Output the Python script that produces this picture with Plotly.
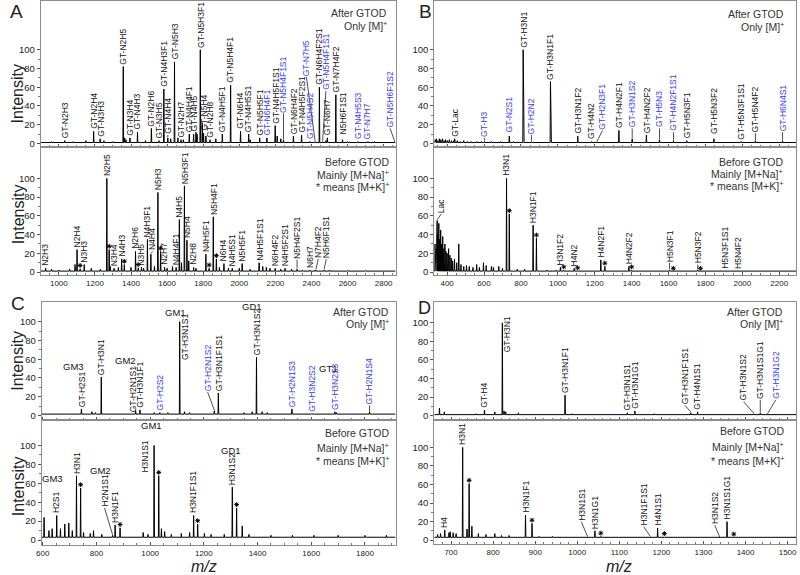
import plotly.graph_objects as go

# ====================== DATA ======================
# ---- Panel A, after GTOD (only [M]+) ----
A1_names = ["GT-N2H3", "GT-N2H4", "GT-N3H3", "GT-N2H5", "GT-N3H4", "GT-N4H3", "GT-N2H6",
            "GT-N3H5", "GT-N4H3F1", "GT-N4H4", "GT-N5H3", "GT-N2H7", "GT-N4H4F1", "GT-N4H5",
            "GT-N5H3F1", "GT-N5H4", "GT-N2H8", "GT-N4H5F1", "GT-N5H4F1", "GT-N6H4", "GT-N4H5S1",
            "GT-N5H5F1", "GT-N6H4F1", "GT-N4H5F1S1", "GT-N5H4F1S1", "GT-N6H4F2", "GT-N4H5F2S1",
            "GT-N5H4S2", "GT-N7H5", "GT-N6H4F2S1", "GT-N5H4F1S1", "GT-N6H7", "GT-N7H4F2",
            "N5H6F1S1", "GT-N4H5S3", "GT-N7H7", "GT-N5H6F1S2"]
A1_mz = [1033, 1193, 1229, 1357, 1394, 1436, 1513, 1555, 1582, 1604, 1641, 1677, 1723, 1747,
         1784, 1802, 1838, 1906, 1952, 2007, 2052, 2113, 2153, 2199, 2245, 2300, 2345, 2391,
         2420, 2444, 2462, 2488, 2535, 2572, 2658, 2713, 2860]
A1_int = [3, 13, 5, 82, 6, 12, 16, 3, 58, 6, 87, 4, 10, 10, 100, 11, 4, 10, 62, 13, 10, 6, 6,
          19, 4, 8, 9, 2, 2, 60, 2, 6, 52, 4, 2, 2, 2]
A1_minor_mz = [960, 1080, 1150, 1250, 1300, 1365, 1372, 1480, 1620, 1660, 1690, 1760, 1766,
               1795, 1815, 1870, 2060, 2210, 2230, 2480, 2600, 2750]
A1_minor_int = [2, 2, 3, 3, 2, 6, 4, 3, 5, 6, 4, 12, 10, 22, 8, 5, 4, 8, 5, 3, 2, 2]

# ---- Panel A, before GTOD ----
A2_names = ["N2H3", "N2H4", "N3H3", "N2H5", "N3H4", "N4H3", "N2H6", "N3H5", "N4H3F1", "N4H4",
            "N5H3", "N2H7", "N4H4F1", "N4H5", "N5H3F1", "N5H4", "N2H8", "N4H5F1", "N5H4F1",
            "N6H4", "N4H5S1", "N5H5F1", "N4H5F1S1", "N6H4F2", "N4H5F2S1", "N5H4F2S1", "N6H7",
            "N7H4F2", "N5H6F1S1"]
A2_mz = [927, 1101, 1141, 1266, 1306, 1348, 1425, 1458, 1491, 1510, 1549, 1586, 1650, 1668,
         1696, 1710, 1747, 1815, 1856, 1915, 1961, 2016, 2110, 2199, 2254, 2320, 2391, 2425, 2470]
A2_int = [4, 24, 8, 100, 4, 14, 22, 5, 35, 19, 85, 5, 5, 56, 92, 34, 5, 19, 59, 9, 4, 9, 10,
          4, 4, 3, 2, 2, 2]
A2_k_mz = [1118, 1279, 1363, 1440, 1564, 1833, 1873]
A2_k_int = [3.5, 24, 8, 4.5, 22, 4, 14]
A2_minor_mz = [960, 1000, 1060, 1090, 1180, 1230, 1285, 1330, 1400, 1470, 1530, 1600, 1630,
               1680, 1720, 1760, 1890, 1940, 2000, 2060, 2130, 2150, 2170, 2230, 2290, 2350,
               2420, 2500, 2600, 2700]
A2_minor_int = [3, 2, 3, 8, 4, 3, 6, 5, 5, 4, 6, 4, 6, 10, 12, 4, 5, 4, 4, 3, 6, 5, 4, 3, 3,
                2, 2, 2, 1.5, 1.5]

# ---- Panel B, after GTOD ----
B1_names = ["GT-Lac", "GT-H3", "GT-N2S1", "GT-H3N1", "GT-H2N2", "GT-H3N1F1", "GT-H3N1F2",
            "GT-H4N2", "GT-H2N3F1", "GT-H4N2F1", "GT-H3N1S2", "GT-H4N2F2", "GT-H5N3",
            "GT-H4N2F1S1", "GT-H5N3F1", "GT-H5N3F2", "GT-H5N3F1S1", "GT-H5N4F2", "GT-H6N4S1"]
B1_mz = [441, 603, 737, 812, 857, 960, 1108, 1183, 1211, 1331, 1403, 1480, 1551, 1627, 1699,
         1846, 1994, 2071, 2218]
B1_int = [5, 2, 8, 100, 2, 66, 8, 2, 1, 14, 5, 9, 4, 3, 3, 5, 2, 3, 3]
B1_minor_mz = [335, 342, 350, 358, 366, 375, 384, 392, 402, 412, 424, 436, 455, 470, 490, 510,
               530, 560, 585, 640, 690, 760, 815, 963]
B1_minor_int = [4, 5, 3, 5, 4, 5, 3, 4, 3, 4, 3, 3, 3, 2, 3, 2, 2, 2, 2, 2, 2, 2, 48, 30]

# ---- Panel B, before GTOD ----
B2_names = ["Lac", "H3N1", "H3N1F1", "H3N1F2", "H4N2", "H4N2F1", "H4N2F2", "H5N3F1", "H5N3F2",
            "H5N3F1S1", "H5N4F2"]
B2_mz = [346, 722, 866, 1014, 1089, 1233, 1385, 1605, 1758, 1905, 1976]
B2_int = [55, 100, 50, 5, 4, 13, 6, 2, 2, 1, 1]
B2_k_mz = [737, 884, 1032, 1107, 1255, 1400, 1626, 1773]
B2_k_int = [62, 36, 2, 1, 6, 2, 0.5, 0.5]
B2_minor_mz = [334, 338, 342, 350, 355, 360, 365, 370, 376, 382, 388, 394, 400, 408, 415, 422,
               430, 440, 452, 463, 475, 490, 505, 520, 540, 560, 575, 597, 612, 640, 651, 680,
               700, 780, 820, 940, 990]
B2_minor_int = [30, 25, 45, 40, 52, 35, 45, 30, 38, 25, 30, 22, 20, 25, 18, 15, 12, 14, 10, 30,
                8, 6, 7, 6, 5, 8, 5, 10, 7, 6, 5, 6, 4, 3, 3, 2, 2]

# ---- Panel C, after GTOD ----
C1_names = ["GT-H2S1", "GT-H3N1", "GT-H2N1S1", "GT-H3N1F1", "GT-H2S2", "GT-H3N1S1",
            "GT-H2N1S2", "GT-H3N1F1S1", "GT-H3N1S2", "GT-H2N1S3", "GT-H3N2S2", "GT-H3N2S3",
            "GT-H2N1S4"]
C1_mz = [744, 818, 946, 962, 1036, 1110, 1239, 1254, 1396, 1528, 1602, 1688, 1817]
C1_int = [7, 41, 5, 6, 3, 100, 5, 24, 62, 7, 2, 4, 4]
C1_minor_mz = [660, 783, 796, 1015, 1066, 1128, 1147, 1350, 1380, 1417, 1436, 1694]
C1_minor_int = [2, 4, 3, 3, 3, 4, 3, 3, 4, 4, 3, 3]
C1_groups = ["GM3", "GM2", "GM1", "GD1", "GT1"]
C1_group_mz = [716, 909, 1094, 1380, 1663]
C1_group_y = [52, 59, 110, 116, 50]

# ---- Panel C, before GTOD ----
C2_names = ["H2S1", "H3N1", "H2N1S1", "H3N1F1", "H3N1S1", "H3N1F1S1", "H3N1S2"]
C2_mz = [652, 725.6, 860, 869.6, 1014.7, 1162, 1306]
C2_int = [26, 68, 5, 16, 100, 26, 56]
C2_k_mz = [741, 888, 1032, 1177, 1322]
C2_k_int = [55, 13, 68, 17, 34]
C2_minor_mz = [605, 623, 635, 666, 682, 697, 710, 752, 777, 789, 820, 974, 992, 1042, 1054,
               1079, 1116, 1147, 1202, 1227, 1276, 1343, 1368, 1450, 1530, 1610, 1700, 1800, 1880]
C2_minor_int = [24, 10, 12, 12, 17, 18, 10, 8, 7, 10, 6, 8, 6, 12, 9, 6, 7, 8, 7, 6, 6, 15, 6,
                5, 5, 5, 5, 5, 5]
C2_groups = ["GM3", "GM2", "GM1", "GD1"]
C2_group_mz = [638, 814, 1005, 1300]
C2_group_y = [65, 74, 121, 95]

# ---- Panel D, after GTOD ----
D1_names = ["GT-H4", "GT-H3N1", "GT-H3N1F1", "GT-H3N1S1", "GT-H3N1G1", "GT-H3N1F1S1",
            "GT-H4N1S1", "GT-H3N1S2", "GT-H3N1S1G1", "GT-H3N1G2"]
D1_mz = [779.5, 822, 971, 1119, 1137, 1270, 1286, 1419, 1435, 1452]
D1_int = [6, 100, 22, 3, 5, 3, 4, 2, 3, 1]
D1_minor_mz = [672.5, 684, 759, 804, 826, 830, 860, 987, 1183]
D1_minor_int = [8, 4, 2, 4, 5, 4, 3, 2, 2]

# ---- Panel D, before GTOD ----
D2_names = ["H4", "H3N1", "H3N1F1", "H3N1S1", "H3N1G1", "H3N1F1S1", "H4N1S1", "H3N1S2",
            "H3N1S1G1"]
D2_mz = [685, 727.6, 877, 1024.5, 1042, 1174, 1191, 1339, 1356]
D2_int = [11, 100, 27, 3, 10, 3, 13, 2, 20]
D2_k_mz = [743, 892.5, 1056, 1207, 1372]
D2_k_int = [61, 18, 4, 3.5, 3]
D2_minor_mz = [668, 675, 695, 698, 705, 712, 738, 749.5, 765, 783, 804, 820, 838, 909, 941,
               965, 996, 1098, 1137, 1255, 1295, 1413, 1452, 1492]
D2_minor_int = [6, 7, 8, 9, 8, 7, 12, 15, 7, 6, 7, 5, 5, 4, 4, 3, 3, 3, 3, 3, 3, 3, 3, 3]

BLUE_LABELS = {"GT-N6H4F1", "GT-N5H4F1S1", "GT-N5H4S2", "GT-N7H5", "GT-N4H5S3", "GT-N7H7",
               "GT-N5H6F1S2", "GT-H3", "GT-N2S1", "GT-H2N2", "GT-H2N3F1", "GT-H3N1S2",
               "GT-H5N3", "GT-H4N2F1S1", "GT-H6N4S1", "GT-H2S2", "GT-H2N1S2", "GT-H2N1S3",
               "GT-H3N2S2", "GT-H3N2S3", "GT-H2N1S4", "GT-H3N1G2"}
BLUE_EXCLUDE_PANELS = {"C1": {"GT-H3N1S2"}, "D1": {"GT-H3N1S2"}}

# ====================== LABEL PLACEMENT (index: (dx in m/z, label base, leader)) ======================
A1_place = {9: (0, 9, True), 24: (0, 32, True), 27: (0, 4, False), 28: (-48, 71, True),
            29: (0, 62, False), 30: (18, 56, True), 31: (0, 8, False), 33: (0, 8, False),
            36: (-24, 16, True)}
A2_place = {9: (10, 22, True), 25: (0, 13, True), 27: (12, 14, True), 28: (12, 14, True)}
B1_place = {1: (0, 6, True), 2: (0, 11, False), 4: (0, 9, True), 8: (31, 14, True),
            10: (0, 16, True), 12: (0, 16, True), 13: (0, 12, True), 15: (0, 9, False),
            17: (0, 11, True), 18: (0, 12, True)}
B2_place = {0: (22, 62, True), 7: (0, 10, True), 8: (0, 8, True)}
C1_place = {2: (-9, 2, False), 5: (18, 58, False), 6: (-25, 25, True), 12: (0, 10.6, True)}
C2_place = {2: (-30, 34, True), 4: (-35, 70, False)}
D1_place = {1: (13, 67, False), 5: (-14, 11, True), 7: (-24, 15, True), 8: (0, 17, True),
            9: (20, 17, True)}
D2_place = {3: (-15, 20, True), 5: (-16, 14.4, True), 7: (-12, 16, True)}

# ====================== GEOMETRY (pixels) ======================
W, H = 800, 575
FONT = "Arial, Liberation Sans, sans-serif"
BLUE = "#3a3af2"
FRAME = "#8c8c8c"

panels = [
    dict(key="A1", xpx=(35, 393), ypx=(1, 148), xr=(899.5, 2866), yr=(-4.3, 152), dtick=200, mdt=50,
         names=A1_names, mz=A1_mz, it=A1_int, mmz=A1_minor_mz, mit=A1_minor_int, kmz=[], kit=[],
         base=1.0, place=A1_place, bottom=False),
    dict(key="A2", xpx=(35, 393), ypx=(148, 276), xr=(899.5, 2866), yr=(-3.2, 133), dtick=200, mdt=50,
         names=A2_names, mz=A2_mz, it=A2_int, mmz=A2_minor_mz, mit=A2_minor_int, kmz=A2_k_mz,
         kit=A2_k_int, base=1.0, place=A2_place, bottom=True),
    dict(key="B1", xpx=(432, 797), ypx=(1, 148), xr=(330, 2291), yr=(-4.3, 152), dtick=200, mdt=50,
         names=B1_names, mz=B1_mz, it=B1_int, mmz=B1_minor_mz, mit=B1_minor_int, kmz=[], kit=[],
         base=1.0, place=B1_place, bottom=False),
    dict(key="B2", xpx=(432, 797), ypx=(148, 276), xr=(330, 2291), yr=(-3.2, 133), dtick=200, mdt=50,
         names=B2_names, mz=B2_mz, it=B2_int, mmz=B2_minor_mz, mit=B2_minor_int, kmz=B2_k_mz,
         kit=B2_k_int, base=1.0, place=B2_place, bottom=True),
    dict(key="C1", xpx=(36, 393), ypx=(303, 421), xr=(596, 1914), yr=(-4.3, 121), dtick=200, mdt=50,
         names=C1_names, mz=C1_mz, it=C1_int, mmz=C1_minor_mz, mit=C1_minor_int, kmz=[], kit=[],
         base=1.5, place=C1_place, bottom=False, groups=(C1_groups, C1_group_mz, C1_group_y)),
    dict(key="C2", xpx=(36, 393), ypx=(421, 547), xr=(596, 1914), yr=(-5.3, 127.4), dtick=200, mdt=50,
         names=C2_names, mz=C2_mz, it=C2_int, mmz=C2_minor_mz, mit=C2_minor_int, kmz=C2_k_mz,
         kit=C2_k_int, base=3.0, place=C2_place, bottom=True, groups=(C2_groups, C2_group_mz, C2_group_y)),
    dict(key="D1", xpx=(432, 797), ypx=(303, 421), xr=(660, 1520), yr=(-4.3, 122.6), dtick=100, mdt=20,
         names=D1_names, mz=D1_mz, it=D1_int, mmz=D1_minor_mz, mit=D1_minor_int, kmz=[], kit=[],
         base=1.0, place=D1_place, bottom=False),
    dict(key="D2", xpx=(432, 797), ypx=(421, 546), xr=(660, 1520), yr=(-4.3, 130), dtick=100, mdt=20,
         names=D2_names, mz=D2_mz, it=D2_int, mmz=D2_minor_mz, mit=D2_minor_int, kmz=D2_k_mz,
         kit=D2_k_int, base=3.0, place=D2_place, bottom=True),
]

fig = go.Figure()
annotations = []
layout_axes = {}

for i, p in enumerate(panels, start=1):
    xn = "x" if i == 1 else f"x{i}"
    yn = "y" if i == 1 else f"y{i}"
    xa = "xaxis" if i == 1 else f"xaxis{i}"
    ya = "yaxis" if i == 1 else f"yaxis{i}"
    x0, x1 = p["xr"]
    wpx = p["xpx"][1] - p["xpx"][0]
    w = 0.35 * (x1 - x0) / wpx

    # spectrum: labelled, minor and [M+K]+ peaks drawn as sticks on a baseline
    peaks = list(zip(p["mz"], p["it"])) + list(zip(p["mmz"], p["mit"])) + list(zip(p["kmz"], p["kit"]))
    peaks.sort()
    xs, ys = [x0], [p["base"]]
    for m, h in peaks:
        xs += [m - w, m, m + w]
        ys += [p["base"], max(h, p["base"]), p["base"]]
    xs.append(x1)
    ys.append(p["base"])
    fig.add_trace(go.Scatter(x=xs, y=ys, mode="lines", line=dict(color="black", width=1),
                             xaxis=xn, yaxis=yn, hoverinfo="skip", showlegend=False))

    # labels and leader lines
    lx, ly = [], []
    excl = BLUE_EXCLUDE_PANELS.get(p["key"], set())
    for j, (name, m, h) in enumerate(zip(p["names"], p["mz"], p["it"])):
        dx, lb, leader = p["place"].get(j, (0, h + 1.2, False))
        col = BLUE if (name in BLUE_LABELS and name not in excl) else "#111111"
        annotations.append(dict(x=m + dx, y=lb, xref=xn, yref=yn, text=name, showarrow=False,
                                textangle=-90, xanchor="center", yanchor="bottom", borderpad=0,
                                font=dict(family=FONT, size=8.5, color=col)))
        if leader:
            lx += [m, m + dx, None]
            ly += [h + 0.8, lb, None]
    if lx:
        fig.add_trace(go.Scatter(x=lx, y=ly, mode="lines", line=dict(color="#222222", width=0.8),
                                 xaxis=xn, yaxis=yn, hoverinfo="skip", showlegend=False))
    # [M+K]+ stars
    if p["kmz"]:
        fig.add_trace(go.Scatter(x=p["kmz"], y=[k + 3.5 for k in p["kit"]], mode="markers",
                                 marker=dict(symbol="asterisk-open", size=4, color="black",
                                             line=dict(color="black", width=1)),
                                 xaxis=xn, yaxis=yn, hoverinfo="skip", showlegend=False))
    # ganglioside group labels
    if "groups" in p:
        for g, gm, gy in zip(*p["groups"]):
            annotations.append(dict(x=gm, y=gy, xref=xn, yref=yn, text=g, showarrow=False,
                                    font=dict(family=FONT, size=9.5, color="#111111")))

    layout_axes[xa] = dict(domain=[p["xpx"][0] / W, p["xpx"][1] / W], range=list(p["xr"]),
                           anchor=yn, showline=True, mirror=True, linecolor=FRAME, linewidth=1,
                           ticks="inside", ticklen=3, tickcolor="#555555", dtick=p["dtick"], tick0=0,
                           showticklabels=p["bottom"], tickfont=dict(family=FONT, size=8, color="#222"),
                           minor=dict(ticks="inside", ticklen=2, dtick=p["mdt"], tickcolor="#777777"),
                           showgrid=False, zeroline=False, fixedrange=True)
    layout_axes[ya] = dict(domain=[1 - p["ypx"][1] / H, 1 - p["ypx"][0] / H], range=list(p["yr"]),
                           anchor=xn, showline=True, mirror=True, linecolor=FRAME, linewidth=1,
                           ticks="outside", ticklen=3, tickcolor="#555555",
                           tickvals=[0, 20, 40, 60, 80, 100],
                           tickfont=dict(family=FONT, size=9.5, color="#222"),
                           minor=dict(ticks="outside", ticklen=2, tickvals=[10, 30, 50, 70, 90],
                                      tickcolor="#777777"),
                           showgrid=False, zeroline=False, fixedrange=True)


def ptext(px, py, text, size, xanchor="center", angle=0, color="#222222"):
    annotations.append(dict(x=px / W, y=1 - py / H, xref="paper", yref="paper", text=text,
                            showarrow=False, xanchor=xanchor, yanchor="middle", textangle=angle,
                            font=dict(family=FONT, size=size, color=color)))


# legend-like notes
for rx, ys in [(386, (13, 26)), (787, (14, 27)), (388, (313, 325)), (786, (313, 325))]:
    ptext(rx, ys[0], "After GTOD", 10.5, "right", color="#333333")
    ptext(rx, ys[1], "Only [M]<sup>+</sup>", 10.5, "right", color="#333333")
for rx, ys in [(388, (163, 175, 187)), (786, (163, 174, 186)), (388, (435, 449, 462)),
               (787, (433, 448, 462))]:
    ptext(rx, ys[0], "Before GTOD", 10.5, "right", color="#333333")
    ptext(rx, ys[1], "Mainly [M+Na]<sup>+</sup>", 10.5, "right", color="#333333")
    ptext(rx, ys[2], "* means [M+K]<sup>+</sup>", 10.5, "right", color="#333333")

# panel letters
ptext(11, 12, "A", 19)
ptext(423, 12, "B", 19)
ptext(12, 305, "C", 19)
ptext(422, 309, "D", 18)

# axis titles
for yy in (94, 215, 362, 488):
    ptext(12, yy, "Intensity", 16, angle=-90)
ptext(200, 568, "<i>m/z</i>", 16)
ptext(618, 568, "<i>m/z</i>", 16)

fig.update_layout(width=W, height=H, autosize=False, margin=dict(l=0, r=0, t=0, b=0),
                  paper_bgcolor="white", plot_bgcolor="white", showlegend=False,
                  annotations=annotations, **layout_axes)

fig.write_html("out.html", config={"displayModeBar": False},
               post_script="document.body.style.margin='0px';document.body.style.padding='0px';"
                           "document.body.style.overflow='hidden';")
